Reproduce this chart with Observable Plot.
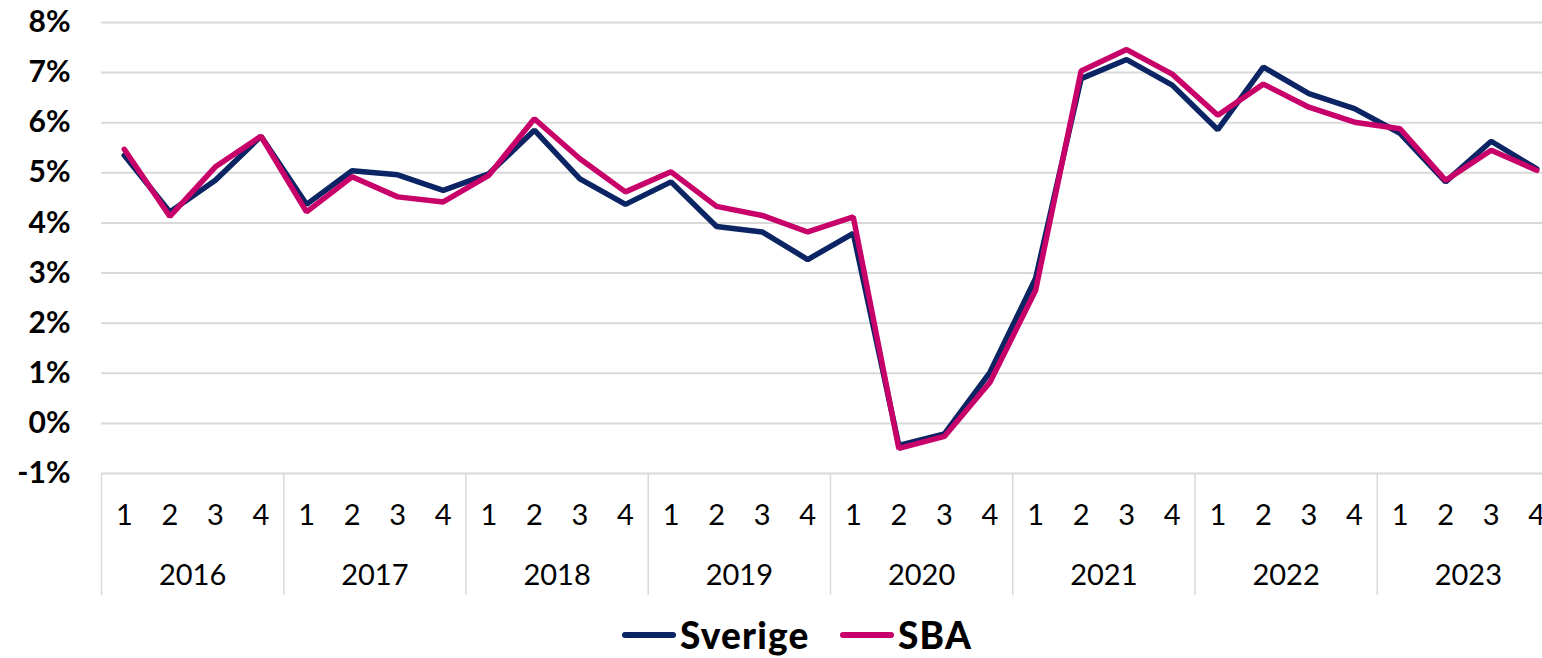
<!DOCTYPE html>
<html>
<head>
<meta charset="utf-8">
<script src="https://cdn.jsdelivr.net/npm/d3@7"></script>
<script src="https://cdn.jsdelivr.net/npm/@observablehq/plot@0.6"></script>
<style>
  html, body { margin: 0; padding: 0; background: #fff; overflow: hidden; width: 1542px; height: 658px; }
  #chart svg { display: block; max-width: none; }
  #legend { position: relative; height: 58px; font-family: Lato, "Noto Sans", sans-serif; font-weight: 900; font-size: 37px; color: #000; }
  .item { position: absolute; top: 12px; display: flex; align-items: center; letter-spacing: 1.2px; }
  .sw { display: inline-block; width: 54px; height: 6px; border-radius: 3px; margin-right: 4px; }
</style>
</head>
<body>
<div id="chart"></div>
<div id="legend"></div>
<script>
const years = [2016, 2017, 2018, 2019, 2020, 2021, 2022, 2023];
const quarters = ["1", "2", "3", "4"];
const yTicks = [-1, 0, 1, 2, 3, 4, 5, 6, 7, 8];
const seriesNames = ["Sverige", "SBA"];
const seriesColors = ["#0b2463", "#c8006a"];

const sverige = [
  5.35, 4.22, 4.85, 5.73,
  4.37, 5.04, 4.96, 4.65,
  4.98, 5.85, 4.88, 4.37,
  4.82, 3.93, 3.82, 3.27,
  3.79, -0.44, -0.21, 1.02,
  2.89, 6.88, 7.26, 6.75,
  5.86, 7.11, 6.58, 6.28,
  5.79, 4.82, 5.63, 5.08
];
const sba = [
  5.47, 4.13, 5.12, 5.73,
  4.22, 4.92, 4.52, 4.42,
  4.95, 6.08, 5.28, 4.62,
  5.02, 4.33, 4.15, 3.82,
  4.12, -0.50, -0.26, 0.82,
  2.65, 7.03, 7.46, 6.97,
  6.15, 6.77, 6.31, 6.01,
  5.88, 4.85, 5.45, 5.05
];

const n = years.length * quarters.length;
const rows = [];
[sverige, sba].forEach((vals, s) => {
  vals.forEach((v, i) => rows.push({ idx: i + 0.5, value: v, series: seriesNames[s] }));
});
const quarterPos = d3.range(n).map(i => i + 0.5);
const yearBounds = d3.range(years.length + 1).map(k => k * quarters.length);
const yearMids = years.map((y, k) => k * quarters.length + quarters.length / 2);

const gridColor = "#d9d9d9";
const chart = Plot.plot({
  width: 1542,
  height: 600,
  marginTop: 22,
  marginBottom: 127,
  marginLeft: 101,
  marginRight: 0,
  style: { fontFamily: "Lato, 'Noto Sans', sans-serif", background: "#fff", overflow: "visible" },
  x: { type: "linear", domain: [0, n], range: [101, 1559] },
  y: { domain: [-1, 8], ticks: yTicks },
  color: { domain: seriesNames, range: seriesColors },
  marks: [
    Plot.ruleY(yTicks, { stroke: gridColor, strokeWidth: 2 }),
    Plot.axisY({ ticks: yTicks, tickSize: 0, tickPadding: 31, tickFormat: d => d + "%", fontSize: 30, fontWeight: "bold", fill: "#000", label: null }),
    Plot.axisX({ ticks: yearBounds, tickSize: 122, tickFormat: () => "", stroke: gridColor, strokeWidth: 1.5, label: null }),
    Plot.axisX({ ticks: quarterPos, tickSize: 0, tickPadding: 31, tickFormat: d => quarters[Math.floor(d) % quarters.length], fontSize: 29, fill: "#000", label: null }),
    Plot.axisX({ ticks: yearMids, tickSize: 0, tickPadding: 91, tickFormat: d => String(years[Math.round((d - quarters.length / 2) / quarters.length)]), fontSize: 29, fill: "#000", label: null }),
    Plot.line(rows, { x: "idx", y: "value", stroke: "series", z: "series", strokeWidth: 5.5, strokeLinejoin: "miter", strokeLinecap: "round" })
  ]
});
document.getElementById("chart").appendChild(chart);

const legend = document.getElementById("legend");
const lefts = [622, 840];
seriesNames.forEach((name, i) => {
  const item = document.createElement("div");
  item.className = "item";
  item.style.left = lefts[i] + "px";
  const sw = document.createElement("span");
  sw.className = "sw";
  sw.style.background = seriesColors[i];
  item.appendChild(sw);
  const t = document.createElement("span");
  t.textContent = name;
  item.appendChild(t);
  legend.appendChild(item);
});
</script>
</body>
</html>
